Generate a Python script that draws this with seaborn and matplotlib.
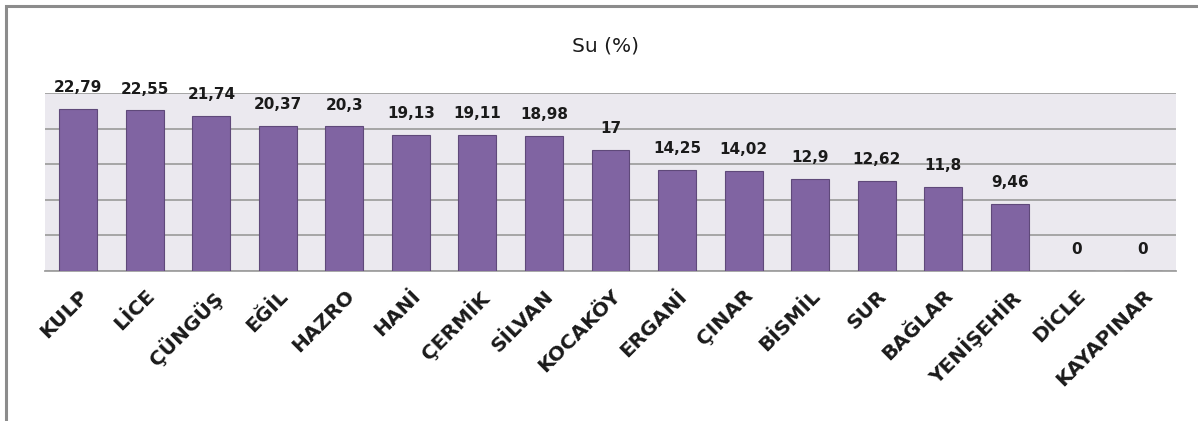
import matplotlib
matplotlib.use("Agg")
import matplotlib.pyplot as plt
import seaborn as sns
import pandas as pd
from matplotlib.patches import Rectangle

ilceler = ["KULP", "LİCE", "ÇÜNGÜŞ", "EĞİL", "HAZRO", "HANİ", "ÇERMİK", "SİLVAN",
           "KOCAKÖY", "ERGANİ", "ÇINAR", "BİSMİL", "SUR", "BAĞLAR", "YENİŞEHİR",
           "DİCLE", "KAYAPINAR"]
su = [22.79, 22.55, 21.74, 20.37, 20.3, 19.13, 19.11, 18.98,
      17, 14.25, 14.02, 12.9, 12.62, 11.8, 9.46, 0, 0]
etiketler = ["22,79", "22,55", "21,74", "20,37", "20,3", "19,13", "19,11", "18,98",
             "17", "14,25", "14,02", "12,9", "12,62", "11,8", "9,46", "0", "0"]

df = pd.DataFrame({"ilce": ilceler, "su": su})

sns.set_style("white")
plt.rcParams["font.family"] = ["DejaVu Sans"]

fig = plt.figure(figsize=(11.98, 4.21), dpi=100)
# dis cerceve (sadece ust ve sol kenar gorunuyor)
fig.patches.append(Rectangle((6 / 1198, -0.1), 1.1, 1.1 - 6 / 421,
                             transform=fig.transFigure, fill=False,
                             edgecolor="#8c8c8c", linewidth=2.2))

ax = fig.add_axes([45 / 1198, 1 - 271 / 421, (1176 - 45) / 1198, (271 - 93) / 421])
ax.set_facecolor("#ebe9ef")

sns.barplot(data=df, x="ilce", y="su", color="#8064a2", saturation=1,
            width=0.57, edgecolor="#5f497a", linewidth=0.8, ax=ax, zorder=3)

ax.set_ylim(0, 25)
ax.set_yticks([0, 5, 10, 15, 20, 25])
ax.yaxis.grid(True, color="#a0a0a0", linewidth=1.3, zorder=0)
ax.set_axisbelow(True)
ax.set_yticklabels([])
ax.tick_params(axis="both", length=0)
ax.set_xlabel("")
ax.set_ylabel("")
for s in ["left", "right", "top"]:
    ax.spines[s].set_visible(False)
ax.spines["bottom"].set_color("#a0a0a0")
ax.spines["bottom"].set_linewidth(1.3)

for i, (v, t) in enumerate(zip(su, etiketler)):
    ax.annotate(t, (i, v), xytext=(0, 10), textcoords="offset points",
                ha="center", va="bottom", fontsize=11, fontweight="bold",
                color="#1a1a1a")

ax.set_xticks(range(len(ilceler)))
ax.set_xticklabels(ilceler, rotation=45, ha="right", rotation_mode="anchor",
                   fontsize=14.5, fontweight="bold", color="#1a1a1a")
ax.tick_params(axis="x", pad=11)
for lbl in ax.get_xticklabels():
    lbl.set_x(lbl.get_position()[0])

fig.text(605 / 1198, 1 - 46 / 421, "Su (%)", ha="center", va="center",
         fontsize=14.5, color="#1a1a1a")

fig.savefig("out.png", dpi=100)
